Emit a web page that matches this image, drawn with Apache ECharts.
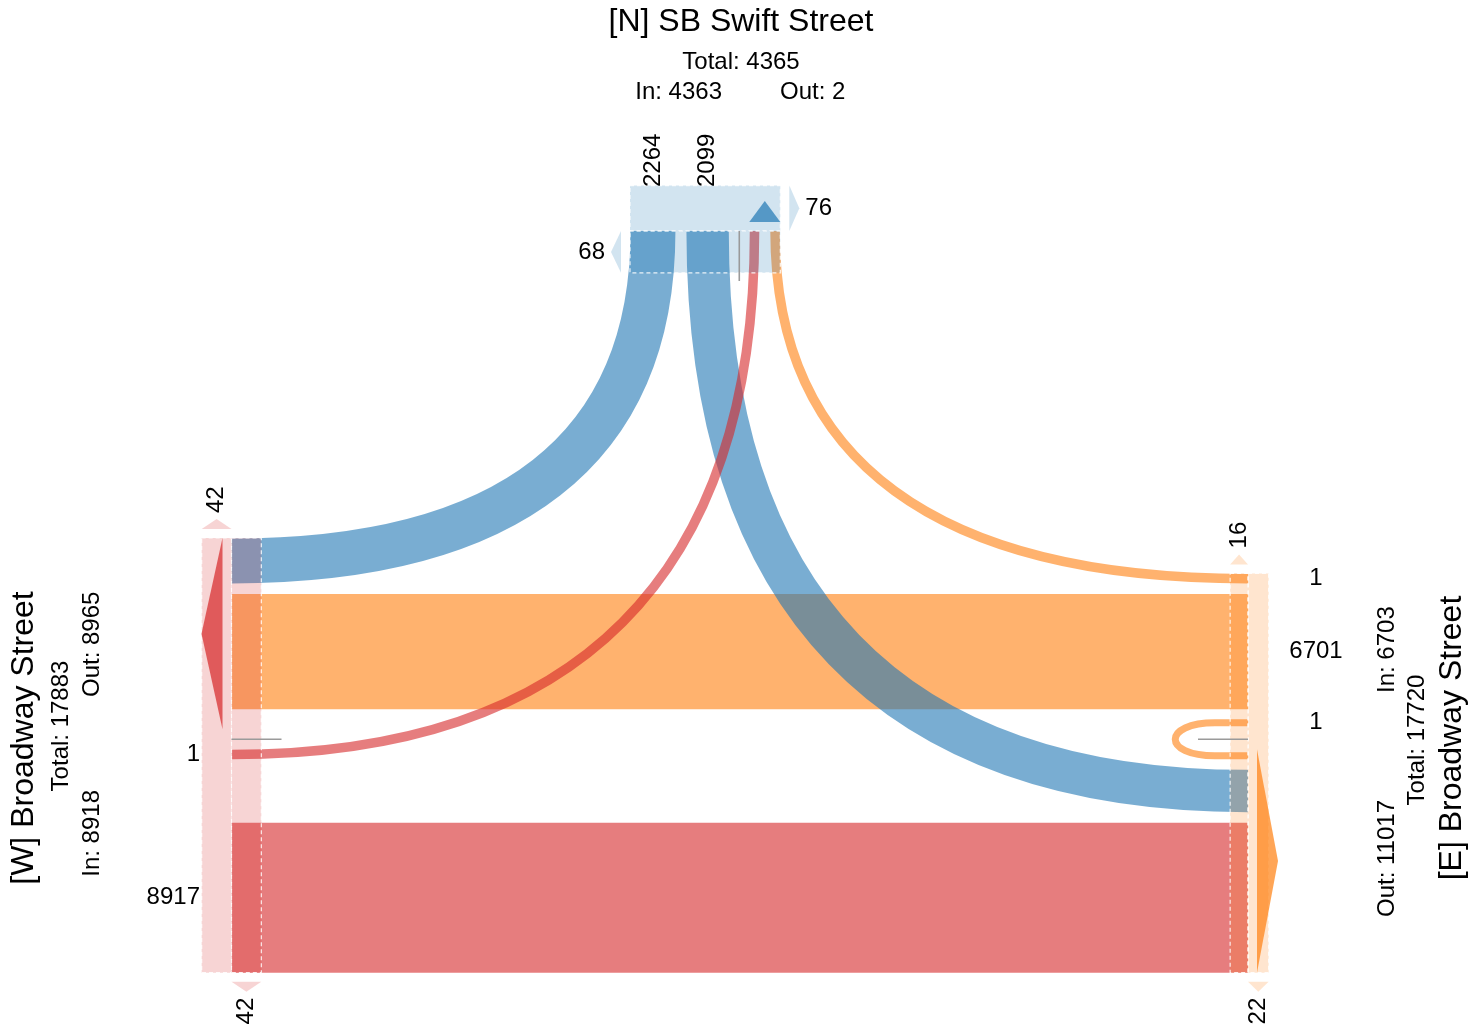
<!DOCTYPE html>
<html>
<head>
<meta charset="utf-8">
<title>Turning movements</title>
<script src="https://cdn.jsdelivr.net/npm/echarts@6/dist/echarts.min.js"></script>
<style>
  html, body { margin: 0; padding: 0; background: #fff; }
  #main { width: 1483px; height: 1032px; }
</style>
</head>
<body>
<div id="main"></div>
<script>
// legs of the intersection
const legs = ['N', 'E', 'W'];
const legTitles = ['[N] SB Swift Street', '[E] Broadway Street', '[W] Broadway Street'];
// turning movements: origin leg -> destination leg, vehicle counts
const moveFrom = ['N', 'N', 'N', 'E', 'E', 'E', 'W', 'W', 'W'];
const moveTo = ['W', 'E', 'N', 'N', 'W', 'E', 'N', 'E', 'W'];
const moveCount = [2264, 2099, 0, 1, 6701, 1, 1, 8917, 0];
// crosswalk counts on each leg (inner / outer bar)
const pedInner = [68, 16, 42];
const pedOuter = [76, 22, 42];

const FONT = '"Liberation Sans", Arial, Helvetica, sans-serif';
const palette = { N: '#1f77b4', E: '#ff7f0e', W: '#d62728' };

const xW = 231.5, xE = 1248, yN = 231; // where the bands meet each leg
const yU = 739.3;                       // u-turn axis of the east-west road
const xN0 = 630;                        // first band on the north leg
const GAP = 10;
const K = 0.66;                         // curve tension
const bandW = v => 10.5 + 0.01565 * v;
const colW = p => 10.5 + 0.46 * p;
const loopHalf = v => (v > 0 ? 20 : 0);

// axis: the coordinate that runs along the leg bar; out: side away from the middle
const geom = {
  N: { axis: 'x', edge: yN, out: -1 },
  E: { axis: 'y', edge: xE, out: 1 },
  W: { axis: 'y', edge: xW, out: -1 }
};

function rgba(hex, a) {
  const n = parseInt(hex.slice(1), 16);
  return 'rgba(' + (n >> 16) + ',' + ((n >> 8) & 255) + ',' + (n & 255) + ',' + a + ')';
}
function idx(f, t) {
  for (let i = 0; i < moveFrom.length; i++) if (moveFrom[i] === f && moveTo[i] === t) return i;
  return -1;
}

// ---- layout of the bands on each leg (computed from the counts) ----
const w = moveCount.map(bandW);
const iNW = idx('N', 'W'), iNE = idx('N', 'E'), iNN = idx('N', 'N');
const iEN = idx('E', 'N'), iEW = idx('E', 'W'), iEE = idx('E', 'E');
const iWN = idx('W', 'N'), iWE = idx('W', 'E'), iWW = idx('W', 'W');
const hW = loopHalf(moveCount[iWW]), hE = loopHalf(moveCount[iEE]), hN = loopHalf(moveCount[iNN]);

const slots = { N: {}, E: {}, W: {} };
const ewBot = yU - Math.max(hW, hE) - GAP;
slots.W[iEW] = slots.E[iEW] = [ewBot - w[iEW], ewBot];
slots.W[iNW] = [ewBot - w[iEW] - GAP - w[iNW], ewBot - w[iEW] - GAP];
slots.E[iEN] = [ewBot - w[iEW] - GAP - w[iEN], ewBot - w[iEW] - GAP];
slots.W[iWW] = [yU - hW, yU + hW];
slots.E[iEE] = [yU - hE, yU + hE];
slots.W[iWN] = [yU + hW + GAP, yU + hW + GAP + w[iWN]];
slots.E[iNE] = [yU + hE + GAP, yU + hE + GAP + w[iNE]];
const weTop = Math.max(slots.W[iWN][1], slots.E[iNE][1]) + GAP;
slots.W[iWE] = slots.E[iWE] = [weTop, weTop + w[iWE]];
let cx = xN0;
[iNW, iNE, iNN, iWN, iEN].forEach(function (i) {
  const ww = i === iNN ? 2 * hN : w[i];
  slots.N[i] = [cx, cx + ww];
  cx += ww + GAP;
});
const mid = s => (s[0] + s[1]) / 2;

function pt(L, along, across) {
  return geom[L].axis === 'x' ? [along, across] : [across, along];
}

// ---- flows ----
function renderFlow(params, api) {
  const i = params.dataIndex;
  const v = moveCount[i];
  if (!(v > 0)) return null;
  const f = moveFrom[i], t = moveTo[i];
  const P = (x, y) => api.coord([x, y]);
  const stroke = rgba(palette[f], 0.6);
  if (f === t) {
    // u-turn loop
    const g = geom[f], s = slots[f][i];
    const a = s[0] + 3.5, b = s[1] - 3.5;
    const pts = [pt(f, a, g.edge), pt(f, a, g.edge - g.out * 33), pt(f, a, g.edge - g.out * 86),
      pt(f, b, g.edge - g.out * 86), pt(f, b, g.edge - g.out * 33), pt(f, b, g.edge)].map(q => P(q[0], q[1]));
    const d = 'M' + pts[0] + 'L' + pts[1] + 'C' + pts[2] + ' ' + pts[3] + ' ' + pts[4] + 'L' + pts[5];
    return { type: 'path', z2: 3, shape: { pathData: d },
      style: { fill: null, stroke: stroke, lineWidth: 7 } };
  }
  if (f !== 'N' && t !== 'N') {
    const s = slots[f][i];
    const p0 = P(xW, s[0]), p1 = P(xE, s[1]);
    return { type: 'rect', z2: 1,
      shape: { x: p0[0], y: p0[1], width: p1[0] - p0[0], height: p1[1] - p0[1] },
      style: { fill: stroke } };
  }
  const a = pt(f, mid(slots[f][i]), geom[f].edge);
  const b = pt(t, mid(slots[t][i]), geom[t].edge);
  const c = f === 'N' ? [a[0], b[1]] : [b[0], a[1]];
  const c1 = [a[0] + K * (c[0] - a[0]), a[1] + K * (c[1] - a[1])];
  const c2 = [b[0] + K * (c[0] - b[0]), b[1] + K * (c[1] - b[1])];
  const A = P(a[0], a[1]), B = P(b[0], b[1]), C1 = P(c1[0], c1[1]), C2 = P(c2[0], c2[1]);
  return { type: 'bezierCurve', z2: f === 'N' ? 2 : 3,
    shape: { x1: A[0], y1: A[1], cpx1: C1[0], cpy1: C1[1], cpx2: C2[0], cpy2: C2[1], x2: B[0], y2: B[1] },
    style: { fill: null, stroke: stroke, lineWidth: w[i] - 1 } };
}

// ---- text placement ----
const flowLabelPos = {
  N: { at: 187, align: 'left', rot: true },
  W: { at: 200, align: 'right', rot: false },
  E: { at: 1316, align: 'center', rot: false }
};
const headPos = {
  N: { rot: false, title: [741, 22], total: [741, 62], inn: [722, 92, 'right'], out: [780, 92, 'left'] },
  W: { rot: true, title: [24, 738], total: [61, 726], inn: [92, 790, 'right'], out: [92, 697, 'left'] },
  E: { rot: true, title: [1452, 738], total: [1417, 740], inn: [1387, 693, 'left'], out: [1387, 800, 'right'] }
};

function txt(P, x, y, s, size, align, rot) {
  const p = P(x, y);
  return { type: 'text', x: p[0], y: p[1], rotation: rot ? Math.PI / 2 : 0,
    style: { text: s, fontSize: size, fontFamily: FONT, fill: '#000', align: align, verticalAlign: 'middle' } };
}

// ---- legs: bars, crosswalks, exit arrow, labels ----
function renderLeg(params, api) {
  const li = params.dataIndex;
  const L = legs[li], g = geom[L];
  const P = (x, y) => api.coord([x, y]);
  const Pp = q => P(q[0], q[1]);
  const col = palette[L];
  const ids = Object.keys(slots[L]).map(Number);
  const lo = Math.min.apply(null, ids.map(i => slots[L][i][0]));
  const hi = Math.max.apply(null, ids.map(i => slots[L][i][1]));
  const uI = idx(L, L);
  const u = mid(slots[L][uI]);
  const outIds = ids.filter(i => moveTo[i] === L && moveFrom[i] !== L);
  const outMean = outIds.reduce((s, i) => s + mid(slots[L][i]), 0) / outIds.length;
  const outEnd = outMean > u ? 1 : -1;
  const tOut = colW(pedOuter[li]), tIn = colW(pedInner[li]);
  const children = [];

  function bar(a0, a1) {
    const p = Pp(pt(L, lo, a0)), q = Pp(pt(L, hi, a1));
    return { type: 'rect',
      shape: { x: Math.min(p[0], q[0]), y: Math.min(p[1], q[1]), width: Math.abs(q[0] - p[0]), height: Math.abs(q[1] - p[1]) },
      style: { fill: rgba(col, 0.2), stroke: 'rgba(255,255,255,0.85)', lineWidth: 1.2, lineDash: [4, 3] } };
  }
  const outerA = [g.edge, g.edge + g.out * tOut];
  const innerA = [g.edge, g.edge - g.out * tIn];
  children.push(bar(outerA[0], outerA[1]));
  children.push(bar(innerA[0], innerA[1]));

  // crosswalk markers: outer bar at the exit end, inner bar at the entry end
  const rot = g.axis === 'y';
  [[outerA, outEnd, pedOuter[li]], [innerA, -outEnd, pedInner[li]]].forEach(function (c) {
    const acr = c[0], end = c[1];
    const base = end > 0 ? hi + 9 : lo - 9;
    const apex = base + end * 10;
    children.push({ type: 'polygon',
      shape: { points: [pt(L, base, acr[0]), pt(L, base, acr[1]), pt(L, apex, (acr[0] + acr[1]) / 2)].map(Pp) },
      style: { fill: rgba(col, 0.2) } });
    const at = pt(L, apex + end * 6, (acr[0] + acr[1]) / 2);
    const align = rot ? (end < 0 ? 'left' : 'right') : (end < 0 ? 'right' : 'left');
    children.push(txt(P, at[0], at[1], String(c[2]), 24, align, rot));
  });

  // exit arrow
  const far = outEnd > 0 ? Math.max.apply(null, outIds.map(i => slots[L][i][1]))
    : Math.min.apply(null, outIds.map(i => slots[L][i][0]));
  const near = u + outEnd * GAP;
  children.push({ type: 'polygon',
    shape: { points: [pt(L, near, g.edge + g.out * 9), pt(L, far, g.edge + g.out * 9),
      pt(L, (near + far) / 2, g.edge + g.out * 30)].map(Pp) },
    style: { fill: rgba(col, 0.7) } });

  // u-turn divider
  const u0 = Pp(pt(L, u, g.edge)), u1 = Pp(pt(L, u, g.edge - g.out * 50));
  children.push({ type: 'line', shape: { x1: u0[0], y1: u0[1], x2: u1[0], y2: u1[1] },
    style: { stroke: '#9a9a9a', lineWidth: 1.6 } });

  // labels of the movements entering from this leg
  const fl = flowLabelPos[L];
  ids.filter(i => moveFrom[i] === L && moveCount[i] > 0).forEach(function (i) {
    let along = mid(slots[L][i]);
    if (moveTo[i] === L) along = outEnd > 0 ? slots[L][i][0] + 3.5 : slots[L][i][1] - 3.5;
    const q = g.axis === 'x' ? [along, fl.at] : [fl.at, along];
    children.push(txt(P, q[0], q[1], String(moveCount[i]), 24, fl.align, fl.rot));
  });

  // headings
  const inSum = moveCount.reduce((s, v, i) => s + (moveFrom[i] === L ? v : 0), 0);
  const outSum = moveCount.reduce((s, v, i) => s + (moveTo[i] === L ? v : 0), 0);
  const h = headPos[L];
  children.push(txt(P, h.title[0], h.title[1], legTitles[li], 32, 'center', h.rot));
  children.push(txt(P, h.total[0], h.total[1], 'Total: ' + (inSum + outSum), 24, 'center', h.rot));
  children.push(txt(P, h.inn[0], h.inn[1], 'In: ' + inSum, 24, h.inn[2], h.rot));
  children.push(txt(P, h.out[0], h.out[1], 'Out: ' + outSum, 24, h.out[2], h.rot));

  return { type: 'group', children: children };
}

const chart = echarts.init(document.getElementById('main'));
chart.setOption({
  animation: false,
  backgroundColor: '#fff',
  grid: { left: 0, right: 0, top: 0, bottom: 0 },
  xAxis: { type: 'value', min: 0, max: 1483, show: false },
  yAxis: { type: 'value', min: 0, max: 1032, inverse: true, show: false },
  series: [
    {
      type: 'custom',
      z: 2,
      clip: false,
      silent: true,
      renderItem: renderFlow,
      data: moveCount.map((v, i) => [i, v])
    },
    {
      type: 'custom',
      z: 3,
      clip: false,
      silent: true,
      renderItem: renderLeg,
      data: legs.map((l, i) => [i, 0])
    }
  ]
});
</script>
</body>
</html>
